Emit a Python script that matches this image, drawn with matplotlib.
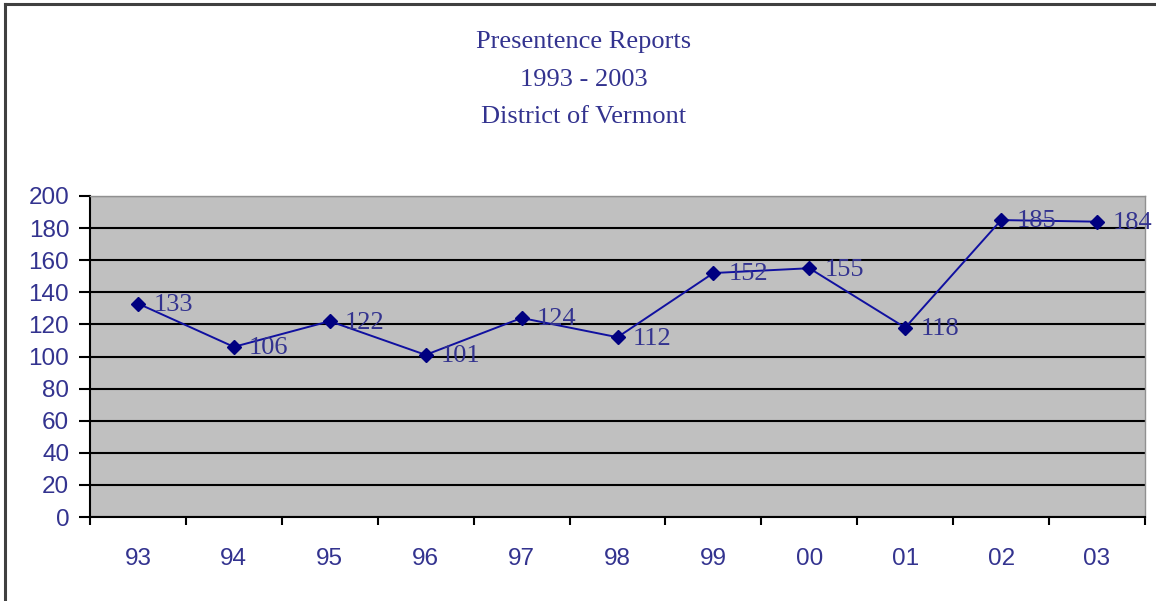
import matplotlib
matplotlib.use("Agg")
import matplotlib.pyplot as plt
from matplotlib.lines import Line2D
import numpy as np

years = ["93", "94", "95", "96", "97", "98", "99", "00", "01", "02", "03"]
reports = [133, 106, 122, 101, 124, 112, 152, 155, 118, 185, 184]
yticks = [0, 20, 40, 60, 80, 100, 120, 140, 160, 180, 200]
title_lines = ["Presentence Reports", "1993 - 2003", "District of Vermont"]

navy_text = "#33338f"
line_col = "#1010a0"
marker_col = "#000080"

W, H = 1156, 601
fig = plt.figure(figsize=(W / 100, H / 100), dpi=100)
fig.patch.set_facecolor("white")

L, R, T, B = 90, 1145, 196, 517
ax = fig.add_axes([L / W, 1 - B / H, (R - L) / W, (B - T) / H])
ax.set_facecolor("#c0c0c0")

x = np.arange(len(years))
ax.plot(x, reports, color=line_col, lw=1.4, marker="D", ms=7,
        mfc=marker_col, mec=marker_col, zorder=3)

for xi, v in zip(x, reports):
    ax.annotate(str(v), (xi, v), xytext=(11, -1), textcoords="offset points",
                ha="left", va="center", fontsize=19, color=navy_text,
                family="Liberation Serif", zorder=4)

ax.set_xlim(-0.5, len(years) - 0.5)
ax.set_ylim(0, 200)
ax.set_yticks(yticks)
ax.set_yticklabels([str(t) for t in yticks], family="Liberation Sans",
                   fontsize=17.5, color=navy_text)
ax.yaxis.grid(True, color="black", lw=1.5)
ax.set_axisbelow(True)

ax.set_xticks(x)
ax.set_xticklabels(years, family="Liberation Sans", fontsize=17.5, color=navy_text)
ax.set_xticks(np.arange(-0.5, len(years)), minor=True)
ax.tick_params(axis="x", which="major", length=0, pad=22)
ax.tick_params(axis="x", which="minor", length=6, width=1.5, direction="out", color="black")
ax.tick_params(axis="y", which="major", length=8, width=1.5, direction="out", color="black", pad=7)

for s in ["top", "right"]:
    ax.spines[s].set_color("#909090")
    ax.spines[s].set_linewidth(1.0)
for s in ["left", "bottom"]:
    ax.spines[s].set_color("black")
    ax.spines[s].set_linewidth(1.5)

for yy, line in zip([42, 80, 117], title_lines):
    fig.text(584 / W, 1 - yy / H, line, ha="center", va="center",
             fontsize=19, color=navy_text, family="Liberation Serif")

# outer chart frame (left and top edges visible)
fig.add_artist(Line2D([5 / W, 5 / W], [0, 1 - 4 / H], transform=fig.transFigure,
                      color="#404040", lw=2.2))
fig.add_artist(Line2D([5 / W, 1], [1 - 4 / H, 1 - 4 / H], transform=fig.transFigure,
                      color="#404040", lw=2.2))

fig.savefig("out.png", dpi=100, facecolor="white")
